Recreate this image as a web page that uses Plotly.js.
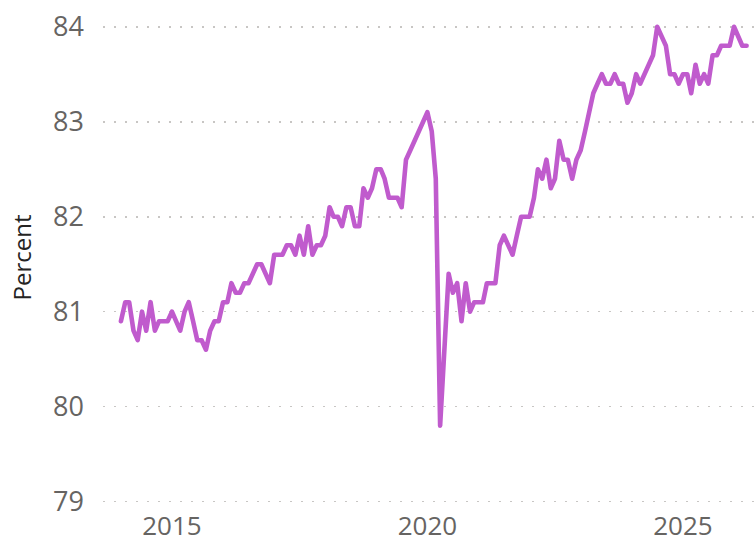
<!DOCTYPE html>
<html>
<head>
<meta charset="utf-8">
<script src="https://cdn.plot.ly/plotly-3.0.1.min.js"></script>
<style>
html, body { margin: 0; padding: 0; background: #ffffff; }
#chart { width: 755px; height: 542px; }
.scatterlayer path.js-line { stroke-linejoin: round; stroke-linecap: round; }
</style>
</head>
<body>
<div id="chart"></div>
<script>
// Monthly values (Jan of each year onward)
const years = [2014, 2015, 2016, 2017, 2018, 2019, 2020, 2021, 2022, 2023, 2024, 2025, 2026];
const values2014 = [80.9, 81.1, 81.1, 80.8, 80.7, 81.0, 80.8, 81.1, 80.8, 80.9, 80.9, 80.9];
const values2015 = [81.0, 80.9, 80.8, 81.0, 81.1, 80.9, 80.7, 80.7, 80.6, 80.8, 80.9, 80.9];
const values2016 = [81.1, 81.1, 81.3, 81.2, 81.2, 81.3, 81.3, 81.4, 81.5, 81.5, 81.4, 81.3];
const values2017 = [81.6, 81.6, 81.6, 81.7, 81.7, 81.6, 81.8, 81.6, 81.9, 81.6, 81.7, 81.7];
const values2018 = [81.8, 82.1, 82.0, 82.0, 81.9, 82.1, 82.1, 81.9, 81.9, 82.3, 82.2, 82.3];
const values2019 = [82.5, 82.5, 82.4, 82.2, 82.2, 82.2, 82.1, 82.6, 82.7, 82.8, 82.9, 83.0];
const values2020 = [83.1, 82.9, 82.4, 79.8, 80.6, 81.4, 81.2, 81.3, 80.9, 81.3, 81.0, 81.1];
const values2021 = [81.1, 81.1, 81.3, 81.3, 81.3, 81.7, 81.8, 81.7, 81.6, 81.8, 82.0, 82.0];
const values2022 = [82.0, 82.2, 82.5, 82.4, 82.6, 82.3, 82.4, 82.8, 82.6, 82.6, 82.4, 82.6];
const values2023 = [82.7, 82.9, 83.1, 83.3, 83.4, 83.5, 83.4, 83.4, 83.5, 83.4, 83.4, 83.2];
const values2024 = [83.3, 83.5, 83.4, 83.5, 83.6, 83.7, 84.0, 83.9, 83.8, 83.5, 83.5, 83.4];
const values2025 = [83.5, 83.5, 83.3, 83.6, 83.4, 83.5, 83.4, 83.7, 83.7, 83.8, 83.8, 83.8];
const values2026 = [84.0, 83.9, 83.8, 83.8];
const yTicks = [79, 80, 81, 82, 83, 84];
const xTickYears = ['2015', '2020', '2025'];

const byYear = [values2014, values2015, values2016, values2017, values2018, values2019,
  values2020, values2021, values2022, values2023, values2024, values2025, values2026];

const xs = [], ys = [];
years.forEach((yr, i) => {
  byYear[i].forEach((v, m) => {
    xs.push(yr + '-' + String(m + 1).padStart(2, '0') + '-01');
    ys.push(v);
  });
});

const trace = {
  x: xs, y: ys, type: 'scatter', mode: 'lines',
  line: { color: '#C05BCD', width: 4.6 },
  hoverinfo: 'skip'
};

const layout = {
  width: 755, height: 542,
  margin: { l: 103, r: 0, t: 10, b: 37, pad: 0 },
  paper_bgcolor: '#ffffff', plot_bgcolor: '#ffffff',
  showlegend: false,
  font: { family: 'Segoe UI, "Open Sans", sans-serif', color: '#605E5C' },
  xaxis: {
    type: 'date',
    range: ['2013-08-26', '2026-05-31'],
    tickmode: 'array',
    tickvals: xTickYears.map(y => y + '-01-01'),
    ticktext: xTickYears,
    showgrid: false, zeroline: false, showline: false, ticks: '',
    ticklabelstandoff: 3,
    tickfont: { size: 26, color: '#666462' }
  },
  yaxis: {
    range: [78.965, 84.176],
    tickmode: 'array', tickvals: yTicks, ticktext: yTicks.map(String),
    showgrid: true, gridcolor: '#C8C6C4', gridwidth: 1.6, griddash: '1.6px,9.4px',
    zeroline: false, showline: false, ticks: '',
    ticklabelstandoff: 18,
    tickfont: { size: 27, color: '#666462' },
    title: { text: 'Percent', font: { size: 24, color: '#252423' }, standoff: 14 }
  }
};

Plotly.newPlot('chart', [trace], layout, { staticPlot: true, displayModeBar: false });
</script>
</body>
</html>
